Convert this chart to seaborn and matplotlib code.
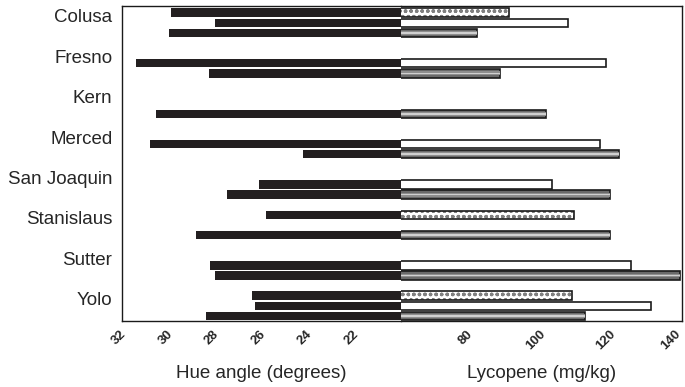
import numpy as np
import pandas as pd
import matplotlib
matplotlib.use("Agg")
import matplotlib.pyplot as plt
import matplotlib.transforms as mtransforms
import seaborn as sns

sns.set_theme(style="white")
plt.rcParams['font.family'] = ['Liberation Sans', 'DejaVu Sans']

counties = ["Colusa", "Fresno", "Kern", "Merced", "San Joaquin", "Stanislaus", "Sutter", "Yolo"]
series = ["dotted", "open", "striped"]

# Hue angle (degrees), NaN where the county has no bar
hue_dotted = [29.9, np.nan, np.nan, np.nan, np.nan, 25.8, np.nan, 26.4]
hue_open = [28.0, 31.4, np.nan, 30.8, 26.1, np.nan, 28.2, 26.3]
hue_striped = [30.0, 28.25, 30.55, 24.2, 27.5, 28.8, 28.0, 28.4]

# Lycopene (mg/kg)
lyc_dotted = [90.8, np.nan, np.nan, np.nan, np.nan, 109.3, np.nan, 108.6]
lyc_open = [107.5, 118.3, np.nan, 116.7, 103.1, np.nan, 125.6, 131.1]
lyc_striped = [81.5, 88.2, 101.3, 122.2, 119.6, 119.6, 139.4, 112.4]

hue_ticks = [32, 30, 28, 26, 24, 22]
lyc_ticks = [80, 100, 120, 140]


def long_table(a, b, c, name):
    rows = []
    for s, vals in zip(series, [a, b, c]):
        for county, v in zip(counties, vals):
            rows.append({"county": county, "series": s, name: v})
    return pd.DataFrame(rows)


hue_df = long_table(hue_dotted, hue_open, hue_striped, "hue")
lyc_df = long_table(lyc_dotted, lyc_open, lyc_striped, "lyc")

fig = plt.figure(figsize=(6.85, 3.87), dpi=100)
ax_l = fig.add_axes([122 / 685, 66 / 387, 279 / 685, 315 / 387])
ax_r = fig.add_axes([401 / 685, 66 / 387, 281 / 685, 315 / 387], sharey=ax_l)

bar_kw = dict(order=counties, hue_order=series, orient="h", width=0.75, gap=0.16,
              dodge=True, legend=False, errorbar=None)

# left: hue angle, all black
sns.barplot(data=hue_df, y="county", x="hue", hue="series", ax=ax_l,
            palette=["#231f20"] * 3, linewidth=0, saturation=1, **bar_kw)

# right: lycopene, patterned
sns.barplot(data=lyc_df, y="county", x="lyc", hue="series", ax=ax_r,
            palette=["white"] * 3, saturation=1, **bar_kw)

for name, cont in zip(series, ax_r.containers):
    for p in cont.patches:
        p.set_edgecolor("#1a1a1a")
        p.set_linewidth(1.2)
        x0, y0 = p.get_x(), p.get_y()
        w, h = p.get_width(), p.get_height()
        if name == "dotted":
            # dotted fill drawn underneath the outline
            ax_r.barh(y0 + h / 2, w, height=h, left=x0, color="white",
                      edgecolor="#808080", hatch="ooo", linewidth=0,
                      zorder=p.get_zorder() - 0.1)
            p.set_facecolor("none")
        elif name == "striped":
            p.set_facecolor("#6a6a6a")
            ax_r.barh(y0 + h / 2, w, height=h * 0.45, left=x0, color="#8e8e8e",
                      linewidth=0, zorder=p.get_zorder() + 0.1)
            ax_r.barh(y0 + h / 2, w, height=h * 0.18, left=x0, color="#d0d0d0",
                      linewidth=0, zorder=p.get_zorder() + 0.2)

ax_l.set_xlim(32, 20)
ax_r.set_xlim(60, 140)
ax_l.set_ylim(7.375, -0.415)

ax_l.set_xticks(hue_ticks)
ax_l.set_xticklabels([str(t) for t in hue_ticks])
ax_r.set_xticks(lyc_ticks)
ax_r.set_xticklabels([str(t) for t in lyc_ticks])

ax_l.set_yticks(np.arange(len(counties)) - 0.175)
ax_l.set_yticklabels(counties, fontsize=13.5)
ax_l.tick_params(axis="y", length=0, pad=7)
ax_r.tick_params(axis="y", left=False, labelleft=False, length=0)

for ax, dx in ((ax_l, -3), (ax_r, -6)):
    ax.tick_params(axis="x", length=0, pad=5)
    labels = ax.get_xticklabels()
    for i, lab in enumerate(labels):
        # keep the last right-hand label inside the figure
        d = -11 if (ax is ax_r and i == len(labels) - 1) else dx
        shift = mtransforms.ScaledTranslation(d / 100, 0, fig.dpi_scale_trans)
        lab.set_rotation(45)
        lab.set_ha("center")
        lab.set_fontsize(9.5)
        lab.set_fontweight("bold")
        lab.set_transform(lab.get_transform() + shift)
    ax.set_ylabel("")
    for s in ax.spines.values():
        s.set_color("#1a1a1a")
        s.set_linewidth(1.0)

ax_l.spines["right"].set_visible(False)
ax_r.spines["left"].set_visible(False)

ax_l.set_xlabel("Hue angle (degrees)", fontsize=13.5, va="center")
ax_r.set_xlabel("Lycopene (mg/kg)", fontsize=13.5, va="center")
ax_l.xaxis.set_label_coords(0.5, -52 / 315)
ax_r.xaxis.set_label_coords(0.5, -52 / 315)

fig.savefig("out.png", dpi=100)
